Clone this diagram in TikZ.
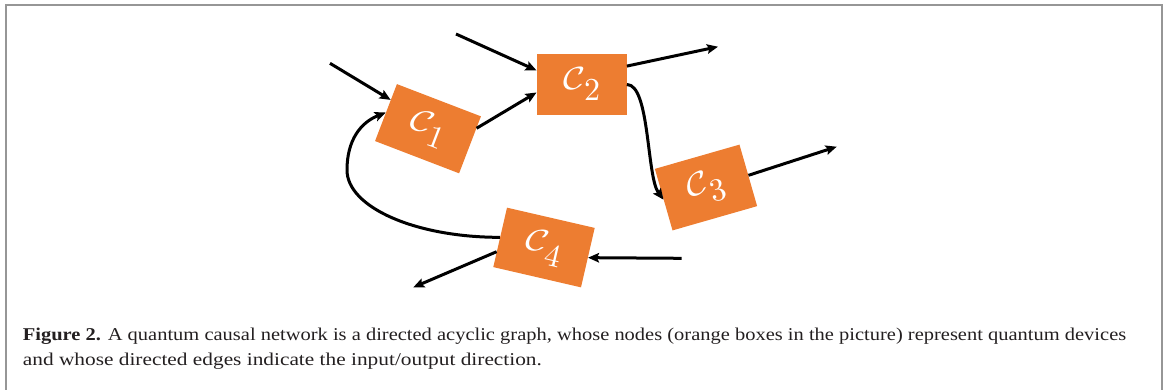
\documentclass[tikz,border=0pt]{standalone}
\usepackage{graphicx}
\usepackage{fontspec}
\newfontfamily\capfont{Liberation Serif}
\usetikzlibrary{arrows.meta,calc}
\definecolor{boxorange}{RGB}{237,125,49}
\definecolor{framegray}{RGB}{150,150,150}
\definecolor{captext}{RGB}{35,31,32}
\newlength\capwd
\newlength\capwdb
\newcommand\capsize{\capfont\fontsize{18}{22}\selectfont}
\newcommand\capone{\textbf{Figure 2.} A quantum causal network is a directed acyclic graph, whose nodes (orange boxes in the picture) represent quantum devices}
\newcommand\captwo{and whose directed edges indicate the input/output direction.}
\newcommand\clabel[1]{\scalebox{3.8}[3.2]{$\mathcal{C}$}\kern-1.5pt\raisebox{-11pt}{\scalebox{3.2}{$#1$}}}
\tikzset{
  cbox/.style={rectangle, fill=boxorange, text=white, minimum width=90pt,
    minimum height=61pt, inner sep=0pt},
  arr/.style={line width=3pt, -{Stealth[length=11pt,width=9.5pt,inset=2pt]}},
  capnode/.style={anchor=base west, inner sep=0pt, text=captext}
}
\begin{document}
\begin{tikzpicture}[x=1pt,y=1pt]
\useasboundingbox (0,0) rectangle (1165,-389);
\draw[framegray, line width=2pt] (5.7,-392) -- (5.7,-5.2) -- (1161.7,-5.2) -- (1161.7,-392);

\node[cbox, rotate=-21] (C1) at (428,-128.7) {\clabel{1}};
\node[cbox] (C2) at (581.7,-84.5) {\clabel{2}};
\node[cbox, rotate=16, minimum width=88pt, minimum height=64pt] (C3) at (706,-187.5) {\clabel{3}};
\node[cbox, rotate=-13] (C4) at (544,-247.5) {\clabel{4}};

\coordinate (in1) at (330,-63.3);
\draw[arr] (in1) -- ($(C1.north west)!0.28!(C1.south west)$);
\coordinate (in2) at (456,-34);
\draw[arr] (in2) -- ($(C2.north west)!0.27!(C2.south west)$);
\draw[arr] ($(C1.north east)!0.21!(C1.south east)$) -- ($(C2.north west)!0.63!(C2.south west)$);
\coordinate (out2) at (718,-46.7);
\draw[arr] ($(C2.north east)!0.2!(C2.south east)$) -- (out2);
\draw[arr] (C2.east) .. controls +(23,0) and +(-17,23) .. (C3.west);
\coordinate (out3) at (836.7,-146.7);
\draw[arr] (C3.east) -- (out3);
\coordinate (in4) at (681.7,-258.3);
\draw[arr] (in4) -- (C4.east);
\coordinate (out4) at (413.3,-287.3);
\draw[arr] ($(C4.north west)!0.74!(C4.south west)$) -- (out4);
\coordinate (bend) at (347,-170);
\draw[arr] (C4.west) .. controls +(-84.5,0) and +(0,-37.3) .. (bend)
  .. controls +(0,30) and +(-25,-10) .. (C1.west);

\node[capnode] (cap1) at (22.7,-340) {\settowidth\capwd{\capsize\capone}%
  \pgfmathsetmacro\capsx{1103.3/\capwd}%
  \scalebox{\capsx}[1]{\capsize\capone}};
\node[capnode] (cap2) at (22.7,-365.5) {\settowidth\capwdb{\capsize\captwo}%
  \pgfmathsetmacro\capsxb{519/\capwdb}%
  \scalebox{\capsxb}[1]{\capsize\captwo}};
\end{tikzpicture}
\end{document}
